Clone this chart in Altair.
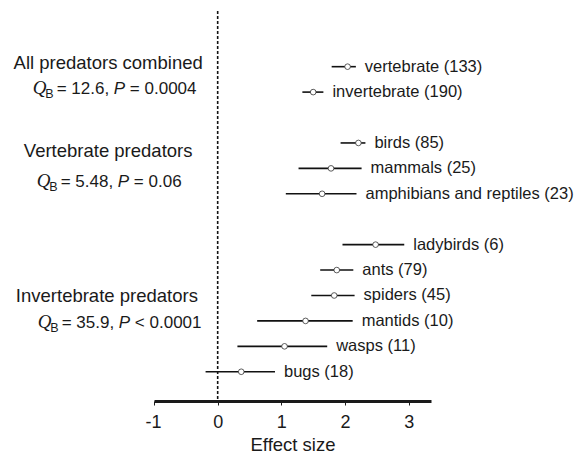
import altair as alt
import pandas as pd

# ---------------- data ----------------
categories = ["vertebrate", "invertebrate", "birds", "mammals", "amphibians and reptiles",
              "ladybirds", "ants", "spiders", "mantids", "wasps", "bugs"]
n_studies = [133, 190, 85, 25, 23, 6, 79, 45, 10, 11, 18]
group_of = [0, 0, 1, 1, 1, 2, 2, 2, 2, 2, 2]
effect = [2.04, 1.50, 2.21, 1.78, 1.64, 2.48, 1.87, 1.83, 1.38, 1.05, 0.37]
ci_low = [1.79, 1.33, 1.93, 1.27, 1.07, 1.96, 1.61, 1.47, 0.62, 0.31, -0.19]
ci_high = [2.17, 1.66, 2.32, 2.26, 2.18, 2.93, 2.13, 2.15, 2.12, 1.72, 0.90]

group_names = ["All predators combined", "Vertebrate predators", "Invertebrate predators"]
q_b = ["12.6", "5.48", "35.9"]
p_rel = ["=", "=", "<"]
p_val = ["0.0004", "0.06", "0.0001"]

tick_values = [-1, 0, 1, 2, 3]

# ---------------- layout helpers ----------------
PX_PER_UNIT = 277 / 4.35
rows = [i + g for i, g in enumerate(group_of)]  # one blank row between groups
header_row = [0.09, 3.55, 9.26]
q_row = [1.08, 4.73, 10.28]
header_x = [-1.72, -1.72, -1.74]
q_x0_px = [-185.0, -181.0, -180.0]  # left edge of the Q line, pixels from x=0

ARIAL = {"0": 556, "1": 556, "2": 556, "3": 556, "4": 556, "5": 556, "6": 556,
         "7": 556, "8": 556, "9": 556, ".": 278, ",": 278, " ": 278, "=": 584, "<": 584}


def w(s, size):
    return sum(ARIAL.get(c, 556) for c in s) * size / 1000.0


QS = 17
df = pd.DataFrame({
    "cat": categories, "n": n_studies, "row": rows,
    "effect": effect, "lo": ci_low, "hi": ci_high,
})
df["label"] = [f"{c} ({n})" for c, n in zip(categories, n_studies)]

hdr = pd.DataFrame({"text": group_names, "x": header_x, "row": header_row})

pieces = []
for g in range(3):
    x0 = q_x0_px[g]
    s1 = f"= {q_b[g]},"
    p_x = x0 + 24 + w(s1 + " ", QS)
    rest_x = p_x + 11.3 + 4.7
    pieces.append({"kind": "Q", "text": "Q", "x": x0 / PX_PER_UNIT, "row": q_row[g]})
    pieces.append({"kind": "B", "text": "B", "x": (x0 + 12.5) / PX_PER_UNIT, "row": q_row[g]})
    pieces.append({"kind": "N", "text": s1, "x": (x0 + 24) / PX_PER_UNIT, "row": q_row[g]})
    pieces.append({"kind": "P", "text": "P", "x": p_x / PX_PER_UNIT, "row": q_row[g]})
    pieces.append({"kind": "N", "text": f"{p_rel[g]} {p_val[g]}", "x": rest_x / PX_PER_UNIT, "row": q_row[g]})
pc = pd.DataFrame(pieces)

xs = alt.Scale(domain=[-1, 3.35], nice=False, zero=False)
ys = alt.Scale(domain=[-2.19, 13.15], nice=False, zero=False, reverse=True)

FONT = "Liberation Sans"
TXT = "#1a1a1a"

zero_line = alt.Chart(pd.DataFrame({"z": [0]})).mark_rule(
    color="#111111", strokeWidth=1.6, strokeDash=[3, 2]
).encode(x=alt.X("z:Q", scale=xs,
                 axis=alt.Axis(values=tick_values, title="Effect size", grid=False,
                               labelExpr="'' + datum.value",
                               labelOffset={"condition": {"test": "datum.value < 0", "value": -9}, "value": 0},
                               domainColor="#1a1a1a", domainWidth=3,
                               tickColor="#1a1a1a", tickWidth=1, tickSize=4,
                               labelFont=FONT, labelFontSize=18, labelColor=TXT,
                               labelPadding=8, titleFont=FONT, titleFontSize=18.5,
                               titleFontWeight="normal", titleColor=TXT, titlePadding=4)))

bars = alt.Chart(df).mark_rule(color="#111111", strokeWidth=1.6).encode(
    x=alt.X("lo:Q", scale=xs), x2="hi:Q",
    y=alt.Y("row:Q", scale=ys, axis=None))

pts = alt.Chart(df).mark_point(shape="circle", filled=True, fill="white", stroke="#333333",
                               strokeWidth=0.8, size=32, opacity=1).encode(
    x=alt.X("effect:Q", scale=xs), y=alt.Y("row:Q", scale=ys, axis=None))

labels = alt.Chart(df).mark_text(align="left", baseline="middle", dx=9, font=FONT,
                                 fontSize=16.5, color=TXT).encode(
    x=alt.X("hi:Q", scale=xs), y=alt.Y("row:Q", scale=ys, axis=None), text="label:N")

headers = alt.Chart(hdr).mark_text(align="center", baseline="alphabetic", font=FONT,
                                   fontSize=18.5, color=TXT).encode(
    x=alt.X("x:Q", scale=xs), y=alt.Y("row:Q", scale=ys, axis=None), text="text:N")


def piece_layer(kind, **kw):
    return alt.Chart(pc).transform_filter(alt.datum.kind == kind).mark_text(
        align="left", baseline="alphabetic", color=TXT, **kw).encode(
        x=alt.X("x:Q", scale=xs), y=alt.Y("row:Q", scale=ys, axis=None), text="text:N")


q_layer = piece_layer("Q", font="Liberation Serif", fontStyle="italic", fontSize=19)
b_layer = piece_layer("B", font=FONT, fontSize=12.5, dy=4)
n_layer = piece_layer("N", font=FONT, fontSize=QS)
p_layer = piece_layer("P", font=FONT, fontStyle="italic", fontSize=QS)

chart = alt.layer(zero_line, bars, pts, labels, headers, q_layer, b_layer, n_layer, p_layer).properties(
    width=277, height=390,
    autosize=alt.AutoSizeParams(type="none"),
    padding={"left": 154, "top": 11, "right": 147, "bottom": 52},
    background="white",
).configure_view(stroke=None)

chart.save("out.html", embed_options={"renderer": "svg", "actions": False})
